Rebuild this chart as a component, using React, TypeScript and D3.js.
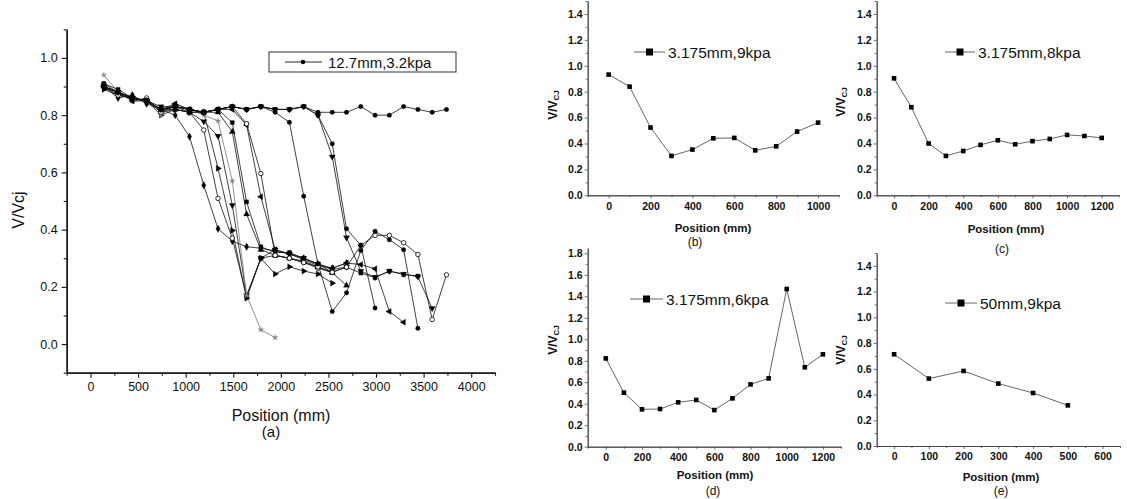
import React, { useEffect, useRef } from 'react';
import * as d3 from 'd3';

// ---------- Panel (a) data ----------
const positionsA = [140, 290, 440, 590, 740, 890, 1040, 1190, 1340, 1490, 1640, 1790, 1940, 2090, 2240, 2390, 2540, 2690, 2840, 2990, 3140, 3290, 3440, 3590, 3740];
const a01 = [0.90, 0.88, 0.86, 0.85, 0.82, 0.83, 0.82, 0.81, 0.82, 0.83, 0.82, 0.83, 0.82, 0.82, 0.83, 0.81, 0.81, 0.81, 0.83, 0.80, 0.80, 0.83, 0.82, 0.81, 0.82];
const a02 = [0.90, 0.86, 0.87, 0.84, 0.82, 0.80, 0.725, 0.555, 0.403, 0.36, 0.34, 0.335, 0.325, 0.315, 0.30, 0.28, 0.265, 0.283];
const a03 = [0.91, 0.88, 0.85, 0.86, 0.81, 0.82, 0.81, 0.748, 0.509, 0.37, 0.165, 0.30, 0.31, 0.30, 0.285, 0.265, 0.25];
const a04 = [0.90, 0.87, 0.86, 0.85, 0.83, 0.83, 0.81, 0.778, 0.727, 0.485, 0.17, 0.30, 0.33, 0.315, 0.30, 0.28, 0.26, 0.27];
const a05 = [0.89, 0.87, 0.86, 0.85, 0.80, 0.82, 0.81, 0.81, 0.614, 0.397, 0.16, 0.30, 0.245, 0.27, 0.255, 0.245, 0.213];
const a06 = [0.94, 0.88, 0.85, 0.85, 0.80, 0.84, 0.82, 0.80, 0.78, 0.57, 0.17, 0.05, 0.023];
const a07 = [0.91, 0.89, 0.86, 0.85, 0.82, 0.83, 0.82, 0.81, 0.82, 0.774, 0.497, 0.34, 0.32, 0.32, 0.30, 0.28, 0.251, 0.269, 0.248, 0.232, 0.255, 0.243, 0.238];
const a08 = [0.90, 0.88, 0.86, 0.85, 0.82, 0.82, 0.81, 0.81, 0.81, 0.742, 0.454, 0.33, 0.31, 0.30, 0.29, 0.27, 0.25, 0.205];
const a09 = [0.90, 0.88, 0.85, 0.85, 0.82, 0.84, 0.82, 0.81, 0.82, 0.82, 0.766, 0.515, 0.33, 0.315, 0.295, 0.275, 0.265, 0.283, 0.278, 0.263, 0.114, 0.076];
const a10 = [0.90, 0.87, 0.86, 0.85, 0.81, 0.83, 0.82, 0.81, 0.82, 0.83, 0.77, 0.596, 0.31, 0.30, 0.285, 0.27, 0.251, 0.269, 0.345, 0.38, 0.38, 0.354, 0.313, 0.086, 0.242];
const a11 = [0.90, 0.88, 0.86, 0.85, 0.82, 0.83, 0.82, 0.81, 0.82, 0.83, 0.82, 0.83, 0.81, 0.775, 0.517, 0.28, 0.114, 0.179, 0.327, 0.394, 0.365, 0.33, 0.055];
const a12 = [0.90, 0.88, 0.86, 0.85, 0.82, 0.83, 0.82, 0.81, 0.82, 0.83, 0.82, 0.83, 0.82, 0.82, 0.83, 0.80, 0.70, 0.403, 0.345, 0.126];
const a13 = [0.90, 0.88, 0.86, 0.85, 0.82, 0.83, 0.82, 0.81, 0.82, 0.83, 0.82, 0.83, 0.82, 0.82, 0.83, 0.80, 0.655, 0.372, 0.255, 0.234, 0.255, 0.245, 0.235, 0.125];
const seriesValuesA = [a01, a02, a03, a04, a05, a06, a07, a08, a09, a10, a11, a12, a13];
const seriesMarkersA = ['circle', 'diamond', 'circleOpen', 'triDown', 'triRight', 'star', 'square', 'triUp', 'triLeft', 'circleOpen', 'circle', 'circle', 'triDown'];
const legendA = '12.7mm,3.2kpa';
const xTicksA = [0, 500, 1000, 1500, 2000, 2500, 3000, 3500, 4000];
const xMinorA = [-250, 250, 750, 1250, 1750, 2250, 2750, 3250, 3750, 4250];
const yTicksA = [0, 0.2, 0.4, 0.6, 0.8, 1.0];
const yMinorA = [-0.1, 0.1, 0.3, 0.5, 0.7, 0.9, 1.1];

// ---------- Small panels ----------
const posB = [0, 100, 200, 300, 400, 500, 600, 700, 800, 900, 1000];
const valB = [0.932, 0.839, 0.523, 0.304, 0.353, 0.44, 0.443, 0.347, 0.378, 0.492, 0.561];
const posC = [0, 100, 200, 300, 400, 500, 600, 700, 800, 900, 1000, 1100, 1200];
const valC = [0.903, 0.68, 0.40, 0.304, 0.342, 0.389, 0.425, 0.394, 0.418, 0.435, 0.466, 0.458, 0.443];
const posD = [0, 100, 200, 300, 400, 500, 600, 700, 800, 900, 1000, 1100, 1200];
const valD = [0.822, 0.503, 0.348, 0.351, 0.413, 0.435, 0.341, 0.45, 0.58, 0.636, 1.468, 0.739, 0.86];
const posE = [0, 100, 200, 300, 400, 500];
const valE = [0.713, 0.524, 0.583, 0.485, 0.412, 0.316];

const ticks02_14 = [0, 0.2, 0.4, 0.6, 0.8, 1.0, 1.2, 1.4];
const minor_14 = [0.1, 0.3, 0.5, 0.7, 0.9, 1.1, 1.3, 1.5];
const ticks02_18 = [0, 0.2, 0.4, 0.6, 0.8, 1.0, 1.2, 1.4, 1.6, 1.8];
const minor_18 = [0.1, 0.3, 0.5, 0.7, 0.9, 1.1, 1.3, 1.5, 1.7];
const xTicks1000 = [0, 200, 400, 600, 800, 1000];
const xMinor1000 = [-100, 100, 300, 500, 700, 900, 1100];
const xTicks1200 = [0, 200, 400, 600, 800, 1000, 1200];
const xMinor1200 = [-100, 100, 300, 500, 700, 900, 1100, 1300];
const xTicks600 = [0, 100, 200, 300, 400, 500, 600];
const xMinor600 = [-50, 50, 150, 250, 350, 450, 550, 650];

const panels = [
  { pos: posB, val: valB, label: '3.175mm,9kpa', tag: '(b)', xd: [-100, 1100], xr: [587.7, 839], yd: [0, 1.5], yr: [195.3, 1], xt: xTicks1000, xm: xMinor1000, yt: ticks02_14, ym: minor_14,
    leg: [634, 665, 52], yl: [557, 105], xlab: [713, 228], tagPos: [695, 242] },
  { pos: posC, val: valC, label: '3.175mm,8kpa', tag: '(c)', xd: [-100, 1300], xr: [876.7, 1119], yd: [0, 1.5], yr: [195.3, 1], xt: xTicks1200, xm: xMinor1200, yt: ticks02_14, ym: minor_14,
    leg: [945, 975, 52], yl: [845, 102], xlab: [1006, 229], tagPos: [1002, 249] },
  { pos: posD, val: valD, label: '3.175mm,6kpa', tag: '(d)', xd: [-100, 1300], xr: [587.7, 841], yd: [0, 1.85], yr: [446.7, 248], xt: xTicks1200, xm: xMinor1200, yt: ticks02_18, ym: minor_18,
    leg: [630, 663, 299], yl: [557, 340], xlab: [715, 475], tagPos: [713, 491] },
  { pos: posE, val: valE, label: '50mm,9kpa', tag: '(e)', xd: [-50, 650], xr: [876.7, 1120], yd: [0, 1.5], yr: [446, 253], xt: xTicks600, xm: xMinor600, yt: ticks02_14, ym: minor_14,
    leg: [945, 977, 303], yl: [845, 350], xlab: [1001, 477], tagPos: [1001, 491] },
];

const FONT = '"Liberation Sans", Arial, sans-serif';

function markerPath(kind: string, size: number) {
  let t: any = d3.symbolCircle;
  if (kind === 'square') t = d3.symbolSquare;
  else if (kind === 'diamond') t = d3.symbolDiamond;
  else if (kind.startsWith('tri')) t = d3.symbolTriangle;
  else if (kind === 'star') t = d3.symbolStar;
  return d3.symbol().type(t).size(size)() as string;
}
function markerRot(kind: string) {
  if (kind === 'triDown') return 180;
  if (kind === 'triRight') return 90;
  if (kind === 'triLeft') return -90;
  return 0;
}

export default function App() {
  const ref = useRef<SVGSVGElement>(null);
  useEffect(() => {
    document.body.style.margin = '0';
    const svg = d3.select(ref.current);
    svg.selectAll('*').remove();
    svg.append('rect').attr('width', 1127).attr('height', 499).attr('fill', '#fff');

    // ===== Panel (a) =====
    const xA = d3.scaleLinear().domain([-250, 4250]).range([66.7, 495]);
    const yA = d3.scaleLinear().domain([-0.1, 1.1]).range([372.7, 29.3]);
    const ga = svg.append('g');
    const yAx = ga.append('g').attr('transform', `translate(${xA.range()[0]},0)`)
      .call(d3.axisLeft(yA).tickValues(yTicksA).tickFormat(d3.format('.1f')).tickSize(5).tickSizeOuter(0));
    ga.append('g').attr('transform', `translate(${xA.range()[0]},0)`)
      .call(d3.axisLeft(yA).tickValues(yMinorA).tickFormat(() => '').tickSize(3).tickSizeOuter(0));
    const xAx = ga.append('g').attr('transform', `translate(0,${yA.range()[0]})`)
      .call(d3.axisBottom(xA).tickValues(xTicksA).tickFormat(d3.format('d')).tickSize(5).tickSizeOuter(0));
    ga.append('g').attr('transform', `translate(0,${yA.range()[0]})`)
      .call(d3.axisBottom(xA).tickValues(xMinorA).tickFormat(() => '').tickSize(3).tickSizeOuter(0));
    ga.selectAll('.domain').attr('stroke', '#111').attr('stroke-width', 1.3);
    ga.selectAll('.tick line').attr('stroke', '#111').attr('stroke-width', 1.1);
    yAx.selectAll('text').attr('font-family', FONT).attr('font-size', 12.5).attr('fill', '#111').attr('x', -9);
    xAx.selectAll('text').attr('font-family', FONT).attr('font-size', 12.5).attr('fill', '#111').attr('y', 9);

    ga.append('text').attr('x', 281).attr('y', 421).attr('text-anchor', 'middle')
      .attr('font-family', FONT).attr('font-size', 16).attr('fill', '#111').text('Position (mm)');
    ga.append('text').attr('x', 271).attr('y', 437).attr('text-anchor', 'middle')
      .attr('font-family', FONT).attr('font-size', 15).attr('fill', '#111').text('(a)');
    ga.append('text').attr('transform', 'translate(24,210) rotate(-90)').attr('text-anchor', 'middle')
      .attr('font-family', FONT).attr('font-size', 16).attr('fill', '#111').text('V/Vcj');

    const lineA = d3.line<number>().x((_, i) => xA(positionsA[i])).y(d => yA(d));
    seriesValuesA.forEach((vals, si) => {
      const kind = seriesMarkersA[si];
      const col = kind === 'star' ? '#777' : '#111';
      ga.append('path').attr('d', lineA(vals) as string).attr('fill', 'none')
        .attr('stroke', col).attr('stroke-width', 0.8);
    });
    seriesValuesA.forEach((vals, si) => {
      const kind = seriesMarkersA[si];
      const open = kind === 'circleOpen';
      const col = kind === 'star' ? '#888' : '#000';
      const p = markerPath(kind, kind === 'star' ? 10 : 16);
      ga.append('g').selectAll('path').data(vals).join('path')
        .attr('d', p)
        .attr('transform', (d, i) => `translate(${xA(positionsA[i])},${yA(d)}) rotate(${markerRot(kind)})`)
        .attr('fill', open ? '#fff' : col)
        .attr('stroke', col).attr('stroke-width', open ? 0.8 : 0.3);
    });
    // legend (a)
    ga.append('rect').attr('x', 269).attr('y', 52).attr('width', 187).attr('height', 20)
      .attr('fill', '#fff').attr('stroke', '#333').attr('stroke-width', 1);
    ga.append('line').attr('x1', 285).attr('x2', 322).attr('y1', 62).attr('y2', 62).attr('stroke', '#111').attr('stroke-width', 0.9);
    ga.append('path').attr('d', markerPath('circle', 16)).attr('transform', 'translate(303,62)').attr('fill', '#000');
    ga.append('text').attr('x', 328).attr('y', 67.5).attr('font-family', FONT).attr('font-size', 15)
      .attr('fill', '#111').text(legendA);

    // ===== Small panels =====
    panels.forEach(pn => {
      const g = svg.append('g');
      const x = d3.scaleLinear().domain(pn.xd).range(pn.xr);
      const y = d3.scaleLinear().domain(pn.yd).range(pn.yr);
      const yMaj = g.append('g').attr('transform', `translate(${pn.xr[0]},0)`)
        .call(d3.axisLeft(y).tickValues(pn.yt).tickFormat(d3.format('.1f')).tickSize(3).tickSizeOuter(0));
      g.append('g').attr('transform', `translate(${pn.xr[0]},0)`)
        .call(d3.axisLeft(y).tickValues(pn.ym).tickFormat(() => '').tickSize(2).tickSizeOuter(0));
      const xMaj = g.append('g').attr('transform', `translate(0,${pn.yr[0]})`)
        .call(d3.axisBottom(x).tickValues(pn.xt).tickFormat(d3.format('d')).tickSize(3).tickSizeOuter(0));
      g.append('g').attr('transform', `translate(0,${pn.yr[0]})`)
        .call(d3.axisBottom(x).tickValues(pn.xm).tickFormat(() => '').tickSize(2).tickSizeOuter(0));
      g.selectAll('.domain').attr('stroke', '#444').attr('stroke-width', 0.9);
      g.selectAll('.tick line').attr('stroke', '#444').attr('stroke-width', 0.8);
      yMaj.selectAll('text').attr('font-family', FONT).attr('font-size', 10.5).attr('font-weight', 'bold').attr('fill', '#111').attr('x', -5);
      xMaj.selectAll('text').attr('font-family', FONT).attr('font-size', 10.5).attr('font-weight', 'bold').attr('fill', '#111').attr('y', 7);

      g.append('text').attr('x', pn.xlab[0]).attr('y', pn.xlab[1] + 4).attr('text-anchor', 'middle')
        .attr('font-family', FONT).attr('font-size', 11.5).attr('font-weight', 'bold').attr('fill', '#111').text('Position (mm)');
      g.append('text').attr('x', pn.tagPos[0]).attr('y', pn.tagPos[1] + 4).attr('text-anchor', 'middle')
        .attr('font-family', FONT).attr('font-size', 12).attr('fill', '#111').text(pn.tag);
      const yl = g.append('text').attr('transform', `translate(${pn.yl[0]},${pn.yl[1]}) rotate(-90)`).attr('text-anchor', 'middle')
        .attr('font-family', FONT).attr('font-size', 12).attr('font-weight', 'bold').attr('fill', '#111');
      yl.append('tspan').text('V/V');
      yl.append('tspan').attr('font-size', 8).attr('dy', 2).text('CJ');

      const line = d3.line<number>().x((_, i) => x(pn.pos[i])).y(d => y(d));
      g.append('path').attr('d', line(pn.val) as string).attr('fill', 'none').attr('stroke', '#555').attr('stroke-width', 0.9);
      g.append('g').selectAll('rect').data(pn.val).join('rect')
        .attr('x', (_, i) => x(pn.pos[i]) - 2.3).attr('y', d => y(d) - 2.3)
        .attr('width', 4.6).attr('height', 4.6).attr('fill', '#000');

      // legend
      const [lx1, lx2, ly] = pn.leg;
      g.append('line').attr('x1', lx1).attr('x2', lx2).attr('y1', ly).attr('y2', ly).attr('stroke', '#555').attr('stroke-width', 0.9);
      g.append('rect').attr('x', (lx1 + lx2) / 2 - 3.5).attr('y', ly - 3.5).attr('width', 7).attr('height', 7).attr('fill', '#000');
      g.append('text').attr('x', lx2 + 3).attr('y', ly + 5.5).attr('font-family', FONT).attr('font-size', 15.5)
        .attr('fill', '#111').text(pn.label);
    });
  }, []);
  return <svg ref={ref} width={1127} height={499} style={{ display: 'block' }} />;
}
